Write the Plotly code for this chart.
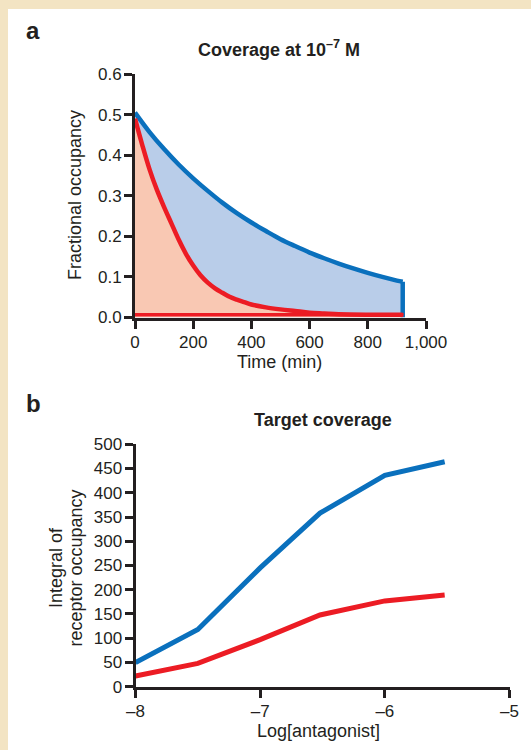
import plotly.graph_objects as go

# ---------------- data ----------------
# Panel a: fractional occupancy vs time (min)
time_blue = [0, 50, 100, 150, 200, 250, 300, 350, 400, 450, 500, 550, 600, 650, 700, 750, 800, 850, 900, 920]
occ_blue = [0.505, 0.457, 0.415, 0.377, 0.343, 0.312, 0.283, 0.257, 0.234, 0.213, 0.193, 0.176, 0.160, 0.146, 0.133, 0.121, 0.110, 0.100, 0.091, 0.088]

time_red = [0, 25, 50, 75, 100, 125, 150, 175, 200, 225, 250, 275, 300, 325, 350, 375, 400, 450, 500, 550, 600, 650, 700, 800, 920]
occ_red = [0.490, 0.425, 0.365, 0.315, 0.272, 0.232, 0.192, 0.157, 0.128, 0.104, 0.086, 0.072, 0.061, 0.051, 0.044, 0.038, 0.032, 0.025, 0.020, 0.016, 0.012, 0.010, 0.008, 0.007, 0.007]

end_time = 920
end_blue_top = 0.088
baseline_occ = 0.007

a_xticks = [0, 200, 400, 600, 800, 1000]
a_xticktext = ["0", "200", "400", "600", "800", "1,000"]
a_yticks = [0.0, 0.1, 0.2, 0.3, 0.4, 0.5, 0.6]
a_yticktext = ["0.0", "0.1", "0.2", "0.3", "0.4", "0.5", "0.6"]

# Panel b: integral of receptor occupancy vs log[antagonist]
log_conc = [-8, -7.5, -7, -6.52, -6, -5.52]
integral_blue = [50, 118, 245, 358, 436, 464]
integral_red = [22, 48, 97, 148, 177, 189]

b_xticks = [-8, -7, -6, -5]
b_xticktext = ["\u20138", "\u20137", "\u20136", "\u20135"]
b_yticks = [0, 50, 100, 150, 200, 250, 300, 350, 400, 450, 500]

# ---------------- style ----------------
W, H = 531, 750
BLUE = "#0A70BD"
RED = "#EC1C24"
BLUE_FILL = "#B9CDE9"
RED_FILL = "#F9C8B3"
INK = "#231F20"
BEIGE = "#F3E4C3"
FONT = "Liberation Sans, Arial, sans-serif"


def px(x):
    return x / W


def py(y):
    return 1 - y / H


fig = go.Figure()

# panel a traces
fig.add_trace(go.Scatter(x=time_blue, y=occ_blue, mode="lines", fill="tozeroy",
                         fillcolor=BLUE_FILL, line=dict(width=0, color=BLUE_FILL, shape="spline"),
                         xaxis="x", yaxis="y", hoverinfo="skip"))
fig.add_trace(go.Scatter(x=time_red, y=occ_red, mode="lines", fill="tozeroy",
                         fillcolor=RED_FILL, line=dict(width=0, color=RED_FILL, shape="spline"),
                         xaxis="x", yaxis="y", hoverinfo="skip"))
fig.add_trace(go.Scatter(x=[end_time, end_time], y=[end_blue_top, 0], mode="lines",
                         line=dict(width=4.5, color=BLUE), xaxis="x", yaxis="y"))
fig.add_trace(go.Scatter(x=[0, end_time + 3], y=[baseline_occ, baseline_occ], mode="lines",
                         line=dict(width=3.5, color=RED), xaxis="x", yaxis="y"))
fig.add_trace(go.Scatter(x=time_blue, y=occ_blue, mode="lines",
                         line=dict(width=4.5, color=BLUE, shape="spline"), xaxis="x", yaxis="y"))
fig.add_trace(go.Scatter(x=time_red, y=occ_red, mode="lines",
                         line=dict(width=4.5, color=RED, shape="spline"), xaxis="x", yaxis="y"))

# panel b traces
fig.add_trace(go.Scatter(x=log_conc, y=integral_blue, mode="lines",
                         line=dict(width=5, color=BLUE), xaxis="x2", yaxis="y2"))
fig.add_trace(go.Scatter(x=log_conc, y=integral_red, mode="lines",
                         line=dict(width=5, color=RED), xaxis="x2", yaxis="y2"))

axis_common = dict(showline=True, linewidth=3, linecolor=INK, ticks="outside",
                   ticklen=8, tickwidth=3, tickcolor=INK, showgrid=False, zeroline=False,
                   automargin=False, ticklabelstandoff=-1,
                   tickfont=dict(family=FONT, size=17, color=INK), fixedrange=True)

fig.update_layout(
    width=W, height=H, autosize=False,
    margin=dict(l=0, r=0, t=0, b=0, pad=0, autoexpand=False),
    paper_bgcolor=BEIGE,
    plot_bgcolor="rgba(0,0,0,0)",
    showlegend=False,
    font=dict(family=FONT, color=INK),
    xaxis=dict(domain=[px(135), px(426)], range=[0, 1000], anchor="y",
               tickvals=a_xticks, ticktext=a_xticktext, **axis_common),
    yaxis=dict(domain=[py(317.5), py(74)], range=[0, 0.6], anchor="x",
               tickvals=a_yticks, ticktext=a_yticktext, **axis_common),
    xaxis2=dict(domain=[px(135.5), px(509.5)], range=[-8, -5], anchor="y2",
                tickvals=b_xticks, ticktext=b_xticktext, **axis_common),
    yaxis2=dict(domain=[py(686.7), py(444.3)], range=[0, 500], anchor="x2",
                tickvals=b_yticks, **axis_common),
    shapes=[dict(type="rect", xref="paper", yref="paper", x0=px(8), x1=1, y0=0, y1=py(9),
                 fillcolor="white", line=dict(width=0), layer="below")],
)

ann = []


def add_text(text, x, y, size=18, bold=False, angle=0, xanchor="center"):
    ann.append(dict(text=("<b>%s</b>" % text) if bold else text, x=px(x), y=py(y),
                    xref="paper", yref="paper", showarrow=False, textangle=angle,
                    xanchor=xanchor, yanchor="middle",
                    font=dict(family=FONT, size=size, color=INK)))


add_text("a", 24, 30, size=24, bold=True, xanchor="left")
add_text("b", 24, 404, size=24, bold=True, xanchor="left")
add_text("Coverage at 10<sup>\u20137</sup> M", 279, 48.5, size=18, bold=True)
add_text("Target coverage", 323, 420, size=18, bold=True)
add_text("Time (min)", 279, 362, size=18)
add_text("Log[antagonist]", 318, 731, size=18)
add_text("Fractional occupancy", 75, 195, size=18, angle=-90)
add_text("Integral of", 56, 568, size=18, angle=-90)
add_text("receptor occupancy", 75.5, 568, size=18, angle=-90)

fig.update_layout(annotations=ann)

fig.write_html("out.html", config={"responsive": False, "displayModeBar": False},
               post_script="document.body.style.margin='0';document.body.style.overflow='hidden';")
